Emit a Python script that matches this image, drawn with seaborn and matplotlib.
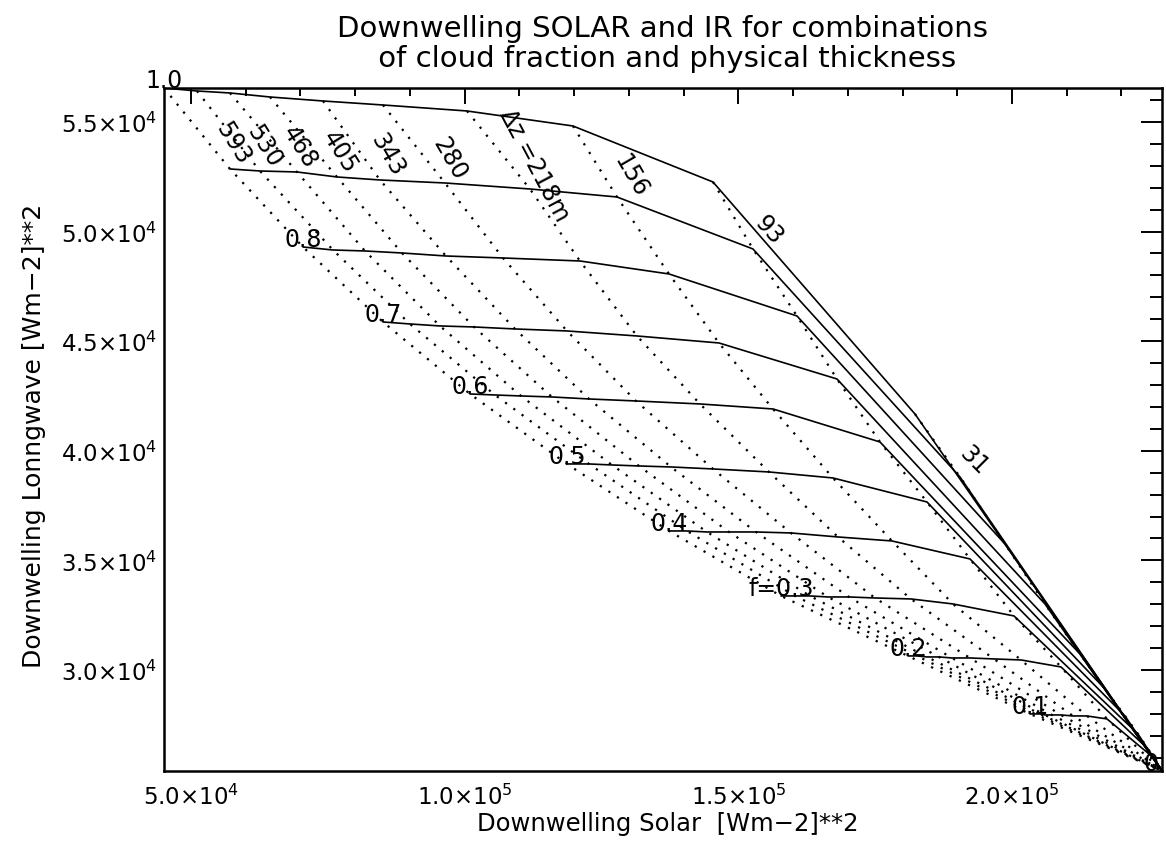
import numpy as np
import pandas as pd
import seaborn as sns
import matplotlib
matplotlib.use("Agg")
import matplotlib.pyplot as plt
from matplotlib.ticker import MultipleLocator, FixedLocator, FuncFormatter

# ---------------- data ----------------
fractions = [1.0, 0.9, 0.8, 0.7, 0.6, 0.5, 0.4, 0.3, 0.2, 0.1]
fraction_labels = ["1.0", "", "0.8", "0.7", "0.6", "0.5", "0.4", "f=0.3", "0.2", "0.1"]
thickness = [593, 530, 468, 405, 343, 280, 218, 156, 93, 31]
thickness_labels = ["593", "530", "468", "405", "343", "280", "\u0394z =218m", "156", "93", "31"]
thickness_label_rot = [-58, -58, -58, -58, -60, -60, -62, -60, -48, -45]
title_lines = ["Downwelling SOLAR and IR for combinations",
               " of cloud fraction and physical thickness"]

# downwelling solar (x) and IR (y) for each cloud fraction, ordered by thickness above
solar_f10 = [45063, 51092, 57121, 64429, 74112, 85074, 100421, 119787, 145365, 182271]
ir_f10 = [56551, 56414, 56323, 56140, 55958, 55775, 55502, 54817, 52262, 41677]
solar_f09 = [57121, 62602, 69362, 76670, 84526, 96402, 111931, 127826, 152673, 190492]
ir_f09 = [52856, 52764, 52719, 52491, 52354, 52217, 51943, 51578, 49206, 38805]
solar_f08 = [70458, 75939, 81786, 88545, 96584, 106998, 121066, 137326, 160712, 198714]
ir_f08 = [49297, 49160, 49115, 49023, 48886, 48795, 48658, 48066, 46150, 35748]
solar_f07 = [85074, 90007, 95488, 101700, 109191, 118691, 131480, 146461, 168020, 206022]
ir_f07 = [45876, 45785, 45694, 45648, 45557, 45466, 45237, 44918, 43275, 33011]
solar_f06 = [100969, 105537, 110287, 115950, 122710, 131297, 142990, 156327, 175876, 212416]
ir_f06 = [42591, 42545, 42500, 42454, 42363, 42272, 42135, 41907, 40401, 30730]
solar_f05 = [118691, 122710, 126912, 131845, 137692, 145365, 155596, 167289, 184463, 216984]
ir_f05 = [39398, 39398, 39352, 39306, 39261, 39170, 39033, 38759, 37664, 29133]
solar_f04 = [137326, 140615, 144269, 148288, 153221, 159616, 168203, 178068, 192319, 220638]
ir_f04 = [36341, 36341, 36295, 36295, 36295, 36250, 36067, 35885, 35064, 27902]
solar_f03 = [157789, 160347, 163087, 166376, 170212, 174963, 181540, 189213, 200358, 223013]
ir_f03 = [33376, 33376, 33376, 33330, 33330, 33284, 33239, 33011, 32464, 27081]
solar_f02 = [180992, 182636, 184463, 186655, 189030, 192319, 196704, 201637, 208945, 224840]
ir_f02 = [30639, 30639, 30593, 30593, 30547, 30547, 30502, 30456, 30137, 26396]
solar_f01 = [203281, 204195, 205108, 206022, 207300, 208945, 211137, 213695, 217349, 226119]
ir_f01 = [27993, 27993, 27993, 27947, 27947, 27947, 27901, 27901, 27765, 25941]

clear_solar = 227400   # f = 0 (no cloud)
clear_ir = 25390

solar_rows = [solar_f10, solar_f09, solar_f08, solar_f07, solar_f06,
              solar_f05, solar_f04, solar_f03, solar_f02, solar_f01]
ir_rows = [ir_f10, ir_f09, ir_f08, ir_f07, ir_f06,
           ir_f05, ir_f04, ir_f03, ir_f02, ir_f01]

# ---------------- tidy tables ----------------
recs = []
for i, f in enumerate(fractions):
    for j, dz in enumerate(thickness):
        recs.append(dict(f=f, dz=dz, order_f=j, order_dz=i,
                         solar=solar_rows[i][j], ir=ir_rows[i][j]))
grid = pd.DataFrame(recs)

flines = pd.concat([grid[["f", "order_f", "solar", "ir"]],
                    pd.DataFrame(dict(f=fractions, order_f=len(thickness),
                                      solar=clear_solar, ir=clear_ir))])
flines = flines.sort_values(["f", "order_f"])
dlines = pd.concat([grid[["dz", "order_dz", "solar", "ir"]],
                    pd.DataFrame(dict(dz=thickness, order_dz=len(fractions),
                                      solar=clear_solar, ir=clear_ir))])
dlines = dlines.sort_values(["dz", "order_dz"])

# ---------------- figure ----------------
sns.set_theme(style="white")
plt.rcParams["font.family"] = ["DejaVu Sans"]
plt.rcParams["mathtext.fontset"] = "dejavusans"
plt.rcParams["text.color"] = "black"
plt.rcParams["axes.labelcolor"] = "black"
plt.rcParams["xtick.color"] = "black"
plt.rcParams["ytick.color"] = "black"

fig = plt.figure(figsize=(11.66, 8.45), dpi=100)
ax = fig.add_axes([0.14065, 0.08639, 0.85592, 0.80828])

sns.lineplot(data=dlines, x="solar", y="ir", units="dz", estimator=None,
             sort=False, color="black", lw=1.6, linestyle=(0, (1, 3.6)), ax=ax)
sns.lineplot(data=flines, x="solar", y="ir", units="f", estimator=None,
             sort=False, color="black", lw=1.2, ax=ax)

ax.set_xlim(45070, clear_solar)
ax.set_ylim(clear_ir, 56550)


def sci(v, pos):
    e = int(np.floor(np.log10(v)))
    m = v / 10 ** e
    return r"%.1f$\times$10$^{%d}$" % (m, e)


ax.xaxis.set_major_locator(FixedLocator([5e4, 1e5, 1.5e5, 2e5]))
ax.xaxis.set_minor_locator(MultipleLocator(1e4))
ax.yaxis.set_major_locator(FixedLocator([3e4, 3.5e4, 4e4, 4.5e4, 5e4, 5.5e4]))
ax.yaxis.set_minor_locator(MultipleLocator(1000))
ax.xaxis.set_major_formatter(FuncFormatter(sci))
ax.yaxis.set_major_formatter(FuncFormatter(sci))
ax.tick_params(which="both", direction="in", top=True, right=True,
               color="black", width=1.4, labelsize=16.5, labelcolor="black")
ax.tick_params(axis="x", which="major", length=11.5, pad=9)
ax.tick_params(axis="x", which="minor", length=5.5)
ax.tick_params(axis="y", which="major", length=15, pad=5)
ax.tick_params(axis="y", which="minor", length=8.5)
for s in ax.spines.values():
    s.set_color("black")
    s.set_linewidth(1.8)

ax.set_xlabel("Downwelling Solar  [Wm\u22122]**2", fontsize=17.5)
ax.xaxis.set_label_coords(0.505, -0.0586)
ax.set_ylabel("Downwelling Lonngwave [Wm\u22122]**2", fontsize=18)
ax.yaxis.set_label_coords(-0.118, 0.492)

# two-line title centred over the plot
fig.text(0.5686, 1 - 37 / 845, title_lines[0], ha="center", va="baseline", fontsize=21)
fig.text(0.5686, 1 - 67 / 845, title_lines[1], ha="center", va="baseline", fontsize=21)

# cloud-fraction labels at the thick end of each line
for i, lab in enumerate(fraction_labels):
    if lab:
        ax.annotate(lab, (solar_rows[i][0], ir_rows[i][0]), ha="center", va="baseline",
                    fontsize=17, annotation_clip=False,
                    xytext=(0, 1), textcoords="offset pixels")
ax.annotate("0.0", (clear_solar, clear_ir), ha="center", va="baseline",
            fontsize=17, annotation_clip=False,
            xytext=(0, 1), textcoords="offset pixels")

# thickness labels along the dotted lines
for j, lab in enumerate(thickness_labels):
    mx = 0.5 * (solar_rows[0][j] + solar_rows[1][j])
    my = 0.5 * (ir_rows[0][j] + ir_rows[1][j])
    ax.annotate(lab, (mx, my), xytext=(36, -14), textcoords="offset pixels",
                ha="center", va="center", rotation=thickness_label_rot[j],
                fontsize=17, annotation_clip=False)

fig.savefig("out.png", dpi=100)
